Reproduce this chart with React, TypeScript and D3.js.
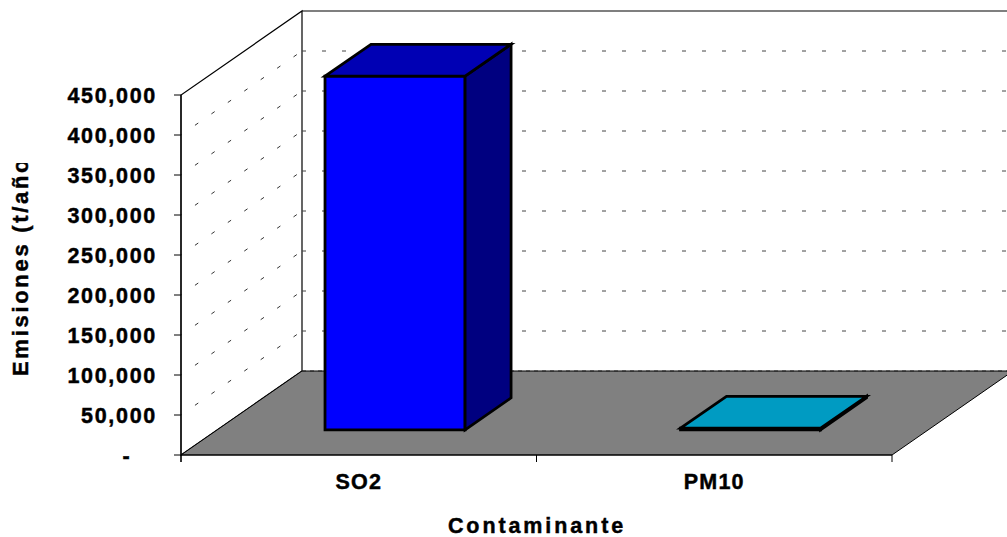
import React from "react";
import * as d3 from "d3";

const categories = ["SO2", "PM10"];
const emissions = [442000, 2000];
const tickValues = [0, 50000, 100000, 150000, 200000, 250000, 300000, 350000, 400000, 450000];
const tickLabels = ["-", "50,000", "100,000", "150,000", "200,000", "250,000", "300,000", "350,000", "400,000", "450,000"];
const frontColors = ["#0000FF", "#00CCFF"];
const topColors = ["#0000B4", "#009BC2"];
const sideColors = ["#000080", "#007090"];
const yTitle = "Emisiones (t/año)";
const xTitle = "Contaminante";

const W = 1007;
const H = 537;
const X0 = 181;
const X1 = 892;
const Y0 = 455;
const YTOP = 95;
const DX = 121;
const DY = -84;
const F0 = 0.3;
const F1 = 0.68;
const BAR_FRAC = 0.394;
const FONT = "'Liberation Sans', Arial, sans-serif";

export default function App() {
  const y = d3.scaleLinear().domain([0, 450000]).range([Y0, YTOP]);
  const x = d3.scaleBand().domain(categories).range([X0, X1]).padding(0);
  const bw = x.bandwidth();
  const pt = (px: number, py: number) => `${px},${py}`;
  const poly = (pts: [number, number][]) => pts.map((p) => pt(p[0], p[1])).join(" ");

  const backX0 = X0 + DX;
  const backXEnd = X1 + DX;
  const textStyle = { stroke: "#000", strokeWidth: 0.45 };

  return (
    <svg width={W} height={H} style={{ position: "absolute", left: 0, top: 0, background: "#fff" }}>
      <defs>
        <clipPath id="ytclip">
          <rect x={0} y={163} width={100} height={300} />
        </clipPath>
      </defs>
      {/* back wall */}
      <polygon
        points={poly([[backX0, y(450000) + DY], [backXEnd, y(450000) + DY], [backXEnd, Y0 + DY], [backX0, Y0 + DY]])}
        fill="#fff"
        stroke="none"
      />
      <line x1={backX0} x2={backXEnd} y1={y(450000) + DY} y2={y(450000) + DY} stroke="#000" strokeWidth={1.2} />
      {/* left wall */}
      <polygon
        points={poly([[X0, Y0], [X0, y(450000)], [backX0, y(450000) + DY], [backX0, Y0 + DY]])}
        fill="#fff"
        stroke="#000"
        strokeWidth={1.2}
      />
      {/* gridlines */}
      {tickValues.slice(1, -1).map((v) => (
        <g key={"g" + v}>
          <line x1={X0} y1={y(v)} x2={backX0} y2={y(v) + DY} stroke="#333" strokeWidth={1} strokeDasharray="4 16" strokeDashoffset={3} />
          <line x1={backX0} y1={y(v) + DY} x2={backXEnd} y2={y(v) + DY} stroke="#444" strokeWidth={1} strokeDasharray="4 16" />
        </g>
      ))}
      {/* floor */}
      <polygon
        points={poly([[X0, Y0], [X1, Y0], [backXEnd, Y0 + DY], [backX0, Y0 + DY]])}
        fill="#808080"
        stroke="#000"
        strokeWidth={1}
      />
      <line x1={backX0} y1={Y0 + DY} x2={backXEnd} y2={Y0 + DY} stroke="#222" strokeWidth={1} strokeDasharray="4 4" />
      {/* bars */}
      {categories.map((c, i) => {
        const cx = (x(c) as number) + bw / 2;
        const half = (bw * BAR_FRAC) / 2;
        const fx0 = cx - half + DX * F0;
        const fx1 = cx + half + DX * F0;
        const fyB = Y0 + DY * F0;
        const fyT = y(emissions[i]) + DY * F0;
        const ddx = DX * (F1 - F0);
        const ddy = DY * (F1 - F0);
        return (
          <g key={c} stroke="#000" strokeWidth={2.8} strokeLinejoin="miter">
            <polygon points={poly([[fx0, fyB], [fx1, fyB], [fx1, fyT], [fx0, fyT]])} fill={frontColors[i]} />
            <polygon points={poly([[fx1, fyB], [fx1 + ddx, fyB + ddy], [fx1 + ddx, fyT + ddy], [fx1, fyT]])} fill={sideColors[i]} />
            <polygon points={poly([[fx0, fyT], [fx1, fyT], [fx1 + ddx, fyT + ddy], [fx0 + ddx, fyT + ddy]])} fill={topColors[i]} />
          </g>
        );
      })}
      {/* axes */}
      <line x1={X0} y1={YTOP} x2={X0} y2={Y0 + 7} stroke="#000" strokeWidth={1.2} />
      <line x1={X0} y1={Y0} x2={X1} y2={Y0} stroke="#000" strokeWidth={1.2} />
      {tickValues.map((v, i) => (
        <g key={"t" + v}>
          <line x1={X0 - 7} x2={X0} y1={y(v)} y2={y(v)} stroke="#000" strokeWidth={1} />
          <text
            x={v === 0 ? 127 : 157}
            y={y(v) + 7.5}
            textAnchor={v === 0 ? "middle" : "end"}
            fontFamily={FONT}
            fontWeight="bold"
            fontSize={21.5}
            letterSpacing={1.7}
            fill="#000"
            style={textStyle}
          >
            {tickLabels[i]}
          </text>
        </g>
      ))}
      {[X0, ...categories.map((c) => (x(c) as number) + bw)].map((bx, i) => (
        <line key={"bt" + i} x1={bx} x2={bx} y1={Y0} y2={Y0 + 7} stroke="#000" strokeWidth={1} />
      ))}
      {categories.map((c) => (
        <text
          key={"xl" + c}
          x={(x(c) as number) + bw / 2}
          y={488.5}
          textAnchor="middle"
          fontFamily={FONT}
          fontWeight="bold"
          fontSize={21.5}
          letterSpacing={1.2}
          fill="#000"
          style={textStyle}
        >
          {c}
        </text>
      ))}
      <text x={537} y={533} textAnchor="middle" fontFamily={FONT} fontWeight="bold" fontSize={21.5} letterSpacing={2.9} fill="#000" style={textStyle}>
        {xTitle}
      </text>
      <g clipPath="url(#ytclip)">
        <text
          transform="translate(28,376) rotate(-90)"
          x={0}
          y={0}
          textAnchor="start"
          fontFamily={FONT}
          fontWeight="bold"
          fontSize={22}
          letterSpacing={2.7}
          fill="#000"
          style={textStyle}
        >
          {yTitle}
        </text>
      </g>
    </svg>
  );
}
